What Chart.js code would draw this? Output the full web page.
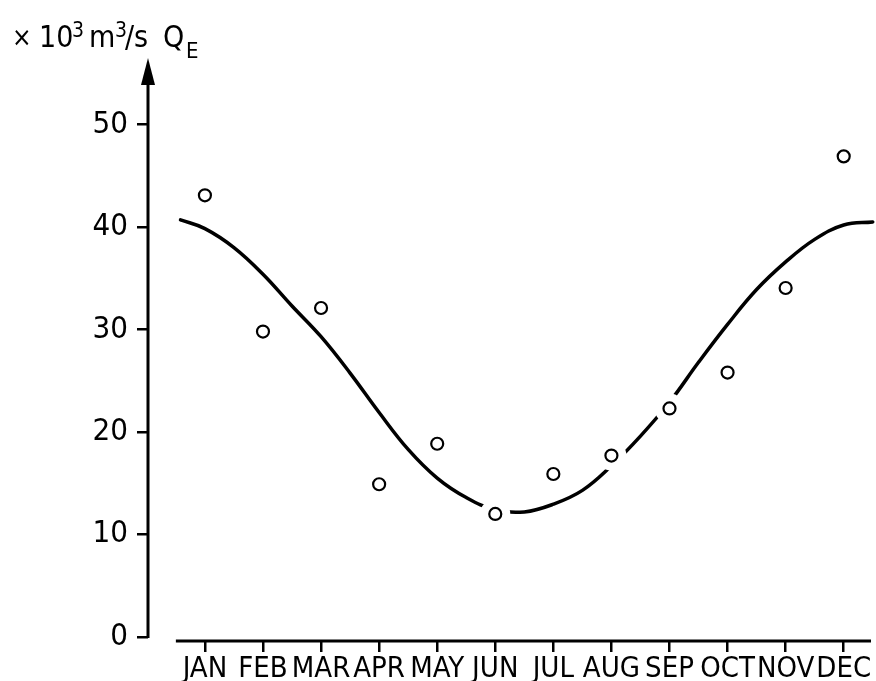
<!DOCTYPE html>
<html>
<head>
<meta charset="utf-8">
<script src="https://cdn.jsdelivr.net/npm/chart.js@4/dist/chart.umd.min.js"></script>
<style>
  html, body { margin: 0; padding: 0; background: #fff; }
  #wrap { width: 876px; height: 681px; position: relative; }
</style>
</head>
<body>
<div id="wrap"><canvas id="c" width="876" height="681"></canvas></div>
<script>
// ---- data ----
const MONTHS = ['JAN','FEB','MAR','APR','MAY','JUN','JUL','AUG','SEP','OCT','NOV','DEC'];
const MONTH_POS = [0,1,2,3,4,5,6,7,8,9,10,11];
const OBSERVED_QE = [43.1, 29.8, 32.1, 14.9, 18.85, 12.0, 15.9, 17.7, 22.3, 25.8, 34.05, 46.9];
// fitted curve (month position, value)
const CURVE_T = [-0.42, 0.0, 0.5, 1.0, 1.5, 2.0, 2.5, 3.0, 3.5, 4.0, 4.5, 5.0, 5.5, 6.0, 6.5, 7.0, 7.5, 8.0, 8.5, 9.0, 9.5, 10.0, 10.5, 11.0, 11.5];
const CURVE_V = [40.7, 39.85, 38.0, 35.4, 32.3, 29.3, 25.75, 21.9, 18.3, 15.5, 13.6, 12.4, 12.2, 12.95, 14.3, 16.7, 19.6, 22.9, 26.8, 30.5, 33.9, 36.6, 38.8, 40.2, 40.5];
const Y_TICKS = [0, 10, 20, 30, 40, 50];

const FONT = '"Liberation Sans Narrow", "DejaVu Sans Condensed", "Liberation Sans", sans-serif';

const obsPoints = MONTH_POS.map((m, i) => ({ x: m, y: OBSERVED_QE[i] }));
const curvePoints = CURVE_T.map((t, i) => ({ x: t, y: CURVE_V[i] }));

const axesPlugin = {
  id: 'axesPlugin',
  afterDraw(chart) {
    const ctx = chart.ctx;
    const xs = chart.scales.x, ys = chart.scales.y;
    const ca = chart.chartArea;
    ctx.save();
    ctx.strokeStyle = '#000';
    ctx.fillStyle = '#000';
    ctx.lineCap = 'butt';
    // y axis line with arrow
    const yx = ca.left;
    ctx.lineWidth = 3;
    ctx.beginPath();
    ctx.moveTo(yx, ys.getPixelForValue(0) + 1);
    ctx.lineTo(yx, ca.top + 20);
    ctx.stroke();
    ctx.beginPath();
    ctx.moveTo(yx, ca.top);
    ctx.lineTo(yx - 7, ca.top + 27);
    ctx.lineTo(yx + 7, ca.top + 27);
    ctx.closePath();
    ctx.fill();
    // x axis line
    ctx.lineWidth = 3;
    ctx.beginPath();
    ctx.moveTo(xs.getPixelForValue(-0.5), ca.bottom);
    ctx.lineTo(xs.getPixelForValue(11.47), ca.bottom);
    ctx.stroke();
    // unit label
    ctx.textBaseline = 'alphabetic';
    ctx.textAlign = 'left';
    const parts = [
      ['\u00d7', 26, 12, 46],
      ['10', 30, 39, 47],
      ['3', 21, 72, 37],
      ['m', 30, 89, 47],
      ['3', 21, 115, 37],
      ['/s', 30, 125, 47],
      ['Q', 30, 163, 47],
      ['E', 22, 186, 58]
    ];
    for (const [txt, size, x, y] of parts) {
      ctx.font = size + 'px ' + FONT;
      ctx.fillText(txt, x, y);
    }
    ctx.restore();
  }
};

new Chart(document.getElementById('c'), {
  type: 'scatter',
  data: {
    datasets: [
      {
        label: 'observed',
        data: obsPoints,
        pointRadius: 6,
        pointHoverRadius: 6,
        borderWidth: 2.2,
        borderColor: '#000',
        backgroundColor: '#fff',
        showLine: false,
        order: 0,
        clip: false
      },
      {
        label: 'halo',
        data: obsPoints,
        pointRadius: 15,
        pointHoverRadius: 15,
        borderWidth: 0,
        borderColor: '#fff',
        backgroundColor: '#fff',
        showLine: false,
        order: 1,
        clip: false
      },
      {
        label: 'fit',
        data: curvePoints,
        showLine: true,
        pointRadius: 0,
        pointHoverRadius: 0,
        borderWidth: 3.5,
        borderColor: '#000',
        backgroundColor: '#000',
        tension: 0.4,
        borderCapStyle: 'round',
        borderJoinStyle: 'round',
        order: 2,
        clip: false
      }
    ]
  },
  options: {
    responsive: false,
    animation: false,
    devicePixelRatio: 1,
    layout: { autoPadding: false, padding: { left: 0, right: 5, top: 58, bottom: 0 } },
    plugins: {
      legend: { display: false },
      title: { display: false },
      tooltip: { enabled: false }
    },
    scales: {
      x: {
        type: 'linear',
        min: -0.98,
        max: 11.47,
        afterBuildTicks: (s) => { s.ticks = MONTH_POS.map(v => ({ value: v })); },
        afterFit: (s) => { s.height = 40; s.paddingLeft = 0; s.paddingRight = 0; },
        border: { display: false },
        grid: { drawOnChartArea: false, drawTicks: true, tickLength: 11, color: '#000', lineWidth: 2.5 },
        ticks: {
          autoSkip: false,
          maxRotation: 0,
          minRotation: 0,
          padding: 0,
          color: '#000',
          font: { family: FONT, size: 29 },
          callback: (v) => MONTHS[v]
        }
      },
      y: {
        type: 'linear',
        min: -0.4,
        max: 56.5,
        afterBuildTicks: (s) => { s.ticks = Y_TICKS.map(v => ({ value: v })); },
        afterFit: (s) => { s.width = 148; s.paddingTop = 0; s.paddingBottom = 0; },
        border: { display: false },
        grid: { drawOnChartArea: false, drawTicks: true, tickLength: 11, color: '#000', lineWidth: 2.5 },
        ticks: {
          padding: 9,
          color: '#000',
          font: { family: FONT, size: 31 }
        }
      }
    }
  },
  plugins: [axesPlugin]
});
</script>
</body>
</html>
